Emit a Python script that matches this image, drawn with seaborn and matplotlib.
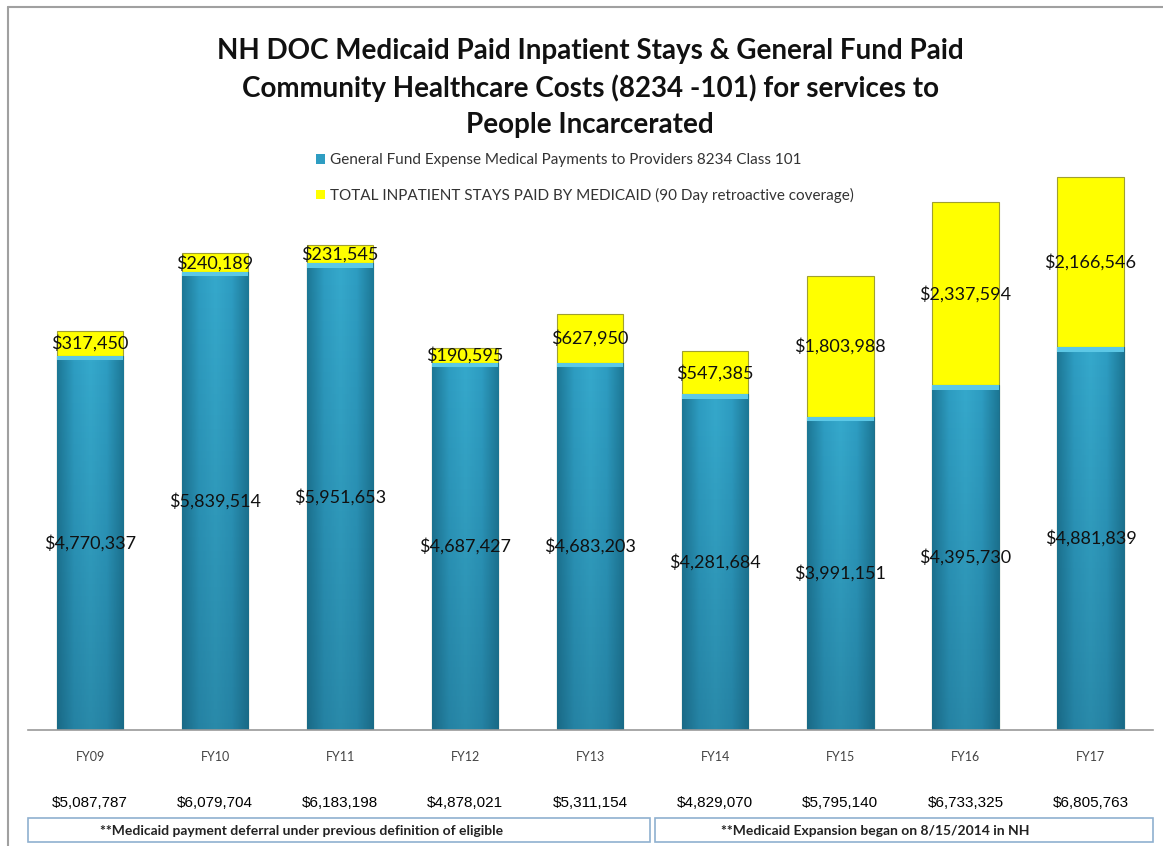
import matplotlib
matplotlib.use("Agg")
import matplotlib.pyplot as plt
import seaborn as sns
import numpy as np
import pandas as pd
from matplotlib.patches import Rectangle
from matplotlib.lines import Line2D
from matplotlib.colors import LinearSegmentedColormap

years = ["FY09", "FY10", "FY11", "FY12", "FY13", "FY14", "FY15", "FY16", "FY17"]
general_fund = [4770337, 5839514, 5951653, 4687427, 4683203, 4281684, 3991151, 4395730, 4881839]
medicaid = [317450, 240189, 231545, 190595, 627950, 547385, 1803988, 2337594, 2166546]
total_labels = ["$5,087,787", "$6,079,704", "$6,183,198", "$4,878,021", "$5,311,154",
                "$4,829,070", "$5,795,140", "$6,733,325", "$6,805,763"]

title = ("NH DOC Medicaid Paid Inpatient Stays & General Fund Paid\n"
         "Community Healthcare Costs (8234 -101) for services to\n"
         "People Incarcerated")
legend_gf = "General Fund Expense Medical Payments to Providers 8234 Class 101"
legend_md = "TOTAL INPATIENT STAYS PAID BY MEDICAID (90 Day retroactive coverage)"
note_left = "**Medicaid payment deferral under previous definition of eligible"
note_right = "**Medicaid Expansion began on 8/15/2014 in NH"

BLUE = "#2E9DC2"
YELLOW = "#FFFF00"

df = pd.DataFrame({"year": years, "gf": general_fund, "md": medicaid})
df["stack"] = df["gf"] + df["md"]

sns.set_theme(style="white")
plt.rcParams["font.family"] = ["Lato", "DejaVu Sans"]

W, H = 1163, 846
fig = plt.figure(figsize=(W / 100, H / 100), dpi=100)
ax = fig.add_axes([27.5 / W, 1 - 730 / H, (1153 - 27.5) / W, (730 - 150) / H])

sns.barplot(data=df, x="year", y="stack", color=YELLOW, width=0.53,
            edgecolor="#a0a030", linewidth=0.8, saturation=1, ax=ax)
n_yellow = len(ax.patches)
sns.barplot(data=df, x="year", y="gf", color=BLUE, width=0.53,
            edgecolor="#1f6f8a", linewidth=0.8, saturation=1, ax=ax)
blue_patches = ax.patches[n_yellow:]

ax.set_ylim(0, 580 / 78.4 * 1e6)
ax.set_xlim(-0.5, len(years) - 0.5)

# cylinder-like shading for the blue bars, clipped to each bar
cmap = LinearSegmentedColormap.from_list(
    "cyl", ["#1d7896", "#2e9dc2", "#36a9cc", "#2e9dc2", "#1d7896"])
grad = np.tile(np.linspace(0, 1, 64), (64, 1))
vshade = np.linspace(0.0, 1.0, 64)[:, None]
for p in blue_patches:
    x0, y0 = p.get_x(), p.get_y()
    w, h = p.get_width(), p.get_height()
    im = ax.imshow(grad, cmap=cmap, extent=(x0, x0 + w, y0, y0 + h),
                   aspect="auto", origin="lower", zorder=p.get_zorder() + 0.1,
                   interpolation="bicubic")
    im.set_clip_path(p)
    dark = np.zeros((64, 1, 4))
    dark[..., 0:3] = [0.08, 0.32, 0.42]
    dark[..., 3] = (1 - vshade) * 0.35
    im2 = ax.imshow(dark, extent=(x0, x0 + w, y0, y0 + h), aspect="auto",
                    origin="lower", zorder=p.get_zorder() + 0.2)
    im2.set_clip_path(p)
    ax.add_patch(Rectangle((x0, y0 + h - 55000), w, 55000, facecolor="#5cc8e6",
                           edgecolor="none", zorder=p.get_zorder() + 0.3))
ax.set_xlim(-0.5, len(years) - 0.5)
ax.set_ylim(0, 580 / 78.4 * 1e6)

for s in ["top", "right", "left"]:
    ax.spines[s].set_visible(False)
ax.spines["bottom"].set_color("#9a9a9a")
ax.spines["bottom"].set_linewidth(1.2)
ax.set_yticks([])
ax.set_xlabel("")
ax.set_ylabel("")
ax.tick_params(axis="x", length=0, pad=15, labelsize=9, labelcolor="#444444")

for i, (g, m) in enumerate(zip(general_fund, medicaid)):
    ax.text(i, g / 2, f"${g:,}", ha="center", va="center", fontsize=13,
            color="#111111", zorder=10)
    ax.text(i, g + m / 2, f"${m:,}", ha="center", va="center", fontsize=13,
            color="#111111", zorder=10)

# totals row
for i, lab in enumerate(total_labels):
    xf = ax.transData.transform((i, 0))[0] / W
    fig.text(xf, 1 - 803 / H, lab, ha="center", va="center", fontsize=11,
             family="Liberation Sans", color="#000000")

# note boxes
for (x0, x1, tx, txt) in [(28, 650, 302, note_left), (655, 1153, 875, note_right)]:
    fig.patches.append(Rectangle((x0 / W, 1 - 842 / H), (x1 - x0) / W, 24 / H,
                                 transform=fig.transFigure, fill=False,
                                 edgecolor="#8fb0d0", linewidth=1.2))
    fig.text(tx / W, 1 - 831 / H, txt, ha="center", va="center",
             fontsize=10, fontweight="bold", color="#222222")

# title
fig.text(590 / W, 1 - 88 / H, title, ha="center", va="center", fontsize=20,
         fontweight="bold", color="#111111", linespacing=1.45)

# legend
handles = [Rectangle((0, 0), 1, 1, facecolor=BLUE, edgecolor="none"),
           Rectangle((0, 0), 1, 1, facecolor=YELLOW, edgecolor="none")]
leg = fig.legend(handles, [legend_gf, legend_md], loc="center",
                 bbox_to_anchor=(585 / W, 1 - 178 / H), frameon=False,
                 fontsize=11, handlelength=0.6, handleheight=0.6,
                 handletextpad=0.3, labelspacing=1.35)
for t in leg.get_texts():
    t.set_color("#333333")

# outer frame (top and left)
fig.lines.append(Line2D([8 / W, 1], [1 - 7 / H, 1 - 7 / H], transform=fig.transFigure,
                        color="#a0a0a0", linewidth=1.5))
fig.lines.append(Line2D([8 / W, 8 / W], [0, 1 - 7 / H], transform=fig.transFigure,
                        color="#a0a0a0", linewidth=1.5))

fig.savefig("out.png", dpi=100)
